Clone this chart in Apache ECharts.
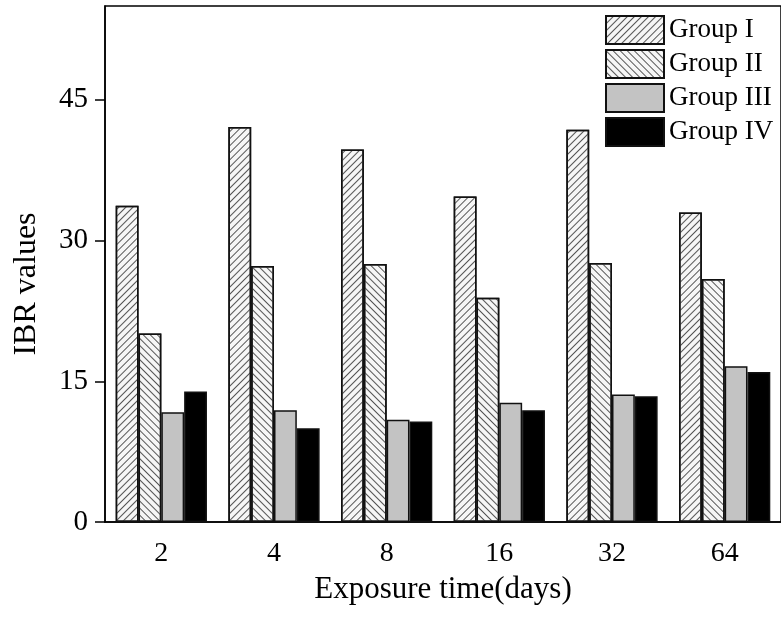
<!DOCTYPE html>
<html>
<head>
<meta charset="utf-8">
<script src="https://cdn.jsdelivr.net/npm/echarts@6/dist/echarts.min.js"></script>
<style>
html,body{margin:0;padding:0;background:#fff;}
#chart{width:781px;height:627px;}
</style>
</head>
<body>
<div id="chart"></div>
<script>
const categories = ['2', '4', '8', '16', '32', '64'];
const groupI = [33.7, 42.1, 39.7, 34.7, 41.8, 33.0];
const groupII = [20.1, 27.3, 27.5, 23.9, 27.6, 25.9];
const groupIII = [11.7, 11.9, 10.9, 12.7, 13.6, 16.6];
const groupIV = [13.9, 10.0, 10.7, 11.9, 13.4, 16.0];
const seriesNames = ['Group I', 'Group II', 'Group III', 'Group IV'];
const yTicks = [0, 15, 30, 45];

const FONT = '"Liberation Serif", "Times New Roman", serif';
const chart = echarts.init(document.getElementById('chart'), null, {renderer: 'canvas'});

function hatch(rot) {
  return {
    symbol: 'rect',
    symbolSize: 1,
    color: '#555',
    backgroundColor: null,
    dashArrayX: [1, 0],
    dashArrayY: [1, 4],
    rotation: rot
  };
}

const baseStyle = {borderColor: '#111', borderWidth: 1.5};

chart.setOption({
  animation: false,
  backgroundColor: '#fff',
  grid: {left: 105, top: 6, right: -8, bottom: 105, show: true, borderColor: '#000', borderWidth: 1.5, backgroundColor: 'transparent'},
  legend: {
    orient: 'vertical',
    left: 600, top: 10,
    icon: 'rect',
    itemWidth: 58, itemHeight: 28, itemGap: 4,
    textStyle: {fontFamily: FONT, fontSize: 27, color: '#000'},
    data: seriesNames
  },
  xAxis: {
    type: 'category',
    data: categories,
    name: 'Exposure time(days)',
    nameLocation: 'middle',
    nameGap: 52,
    nameTextStyle: {fontFamily: FONT, fontSize: 31, color: '#000'},
    axisLine: {lineStyle: {color: '#000', width: 1.5}},
    axisTick: {alignWithLabel: true, length: 10, lineStyle: {color: '#000', width: 1.5}},
    axisLabel: {fontFamily: FONT, fontSize: 28, color: '#000', margin: 18},
    splitLine: {show: false}
  },
  yAxis: {
    type: 'value',
    min: 0, max: 55, interval: 15,
    name: 'IBR values',
    nameLocation: 'middle',
    nameGap: 62,
    nameTextStyle: {fontFamily: FONT, fontSize: 32, color: '#000', padding: [0, 40, 0, 0]},
    axisLine: {show: true, lineStyle: {color: '#000', width: 1.5}},
    axisTick: {show: true, length: 10, customValues: yTicks, lineStyle: {color: '#000', width: 1.5}},
    axisLabel: {fontFamily: FONT, fontSize: 29, color: '#000', margin: 17, customValues: yTicks},
    splitLine: {show: false}
  },
  series: [
    {name: seriesNames[0], type: 'bar', data: groupI, barGap: '0%', barCategoryGap: '19%',
     itemStyle: Object.assign({color: '#f6f6f6', decal: hatch(-Math.PI / 4)}, baseStyle)},
    {name: seriesNames[1], type: 'bar', data: groupII,
     itemStyle: Object.assign({color: '#f6f6f6', decal: hatch(Math.PI / 4)}, baseStyle)},
    {name: seriesNames[2], type: 'bar', data: groupIII,
     itemStyle: Object.assign({color: '#c3c3c3'}, baseStyle)},
    {name: seriesNames[3], type: 'bar', data: groupIV,
     itemStyle: Object.assign({color: '#000'}, baseStyle)}
  ]
});
</script>
</body>
</html>
